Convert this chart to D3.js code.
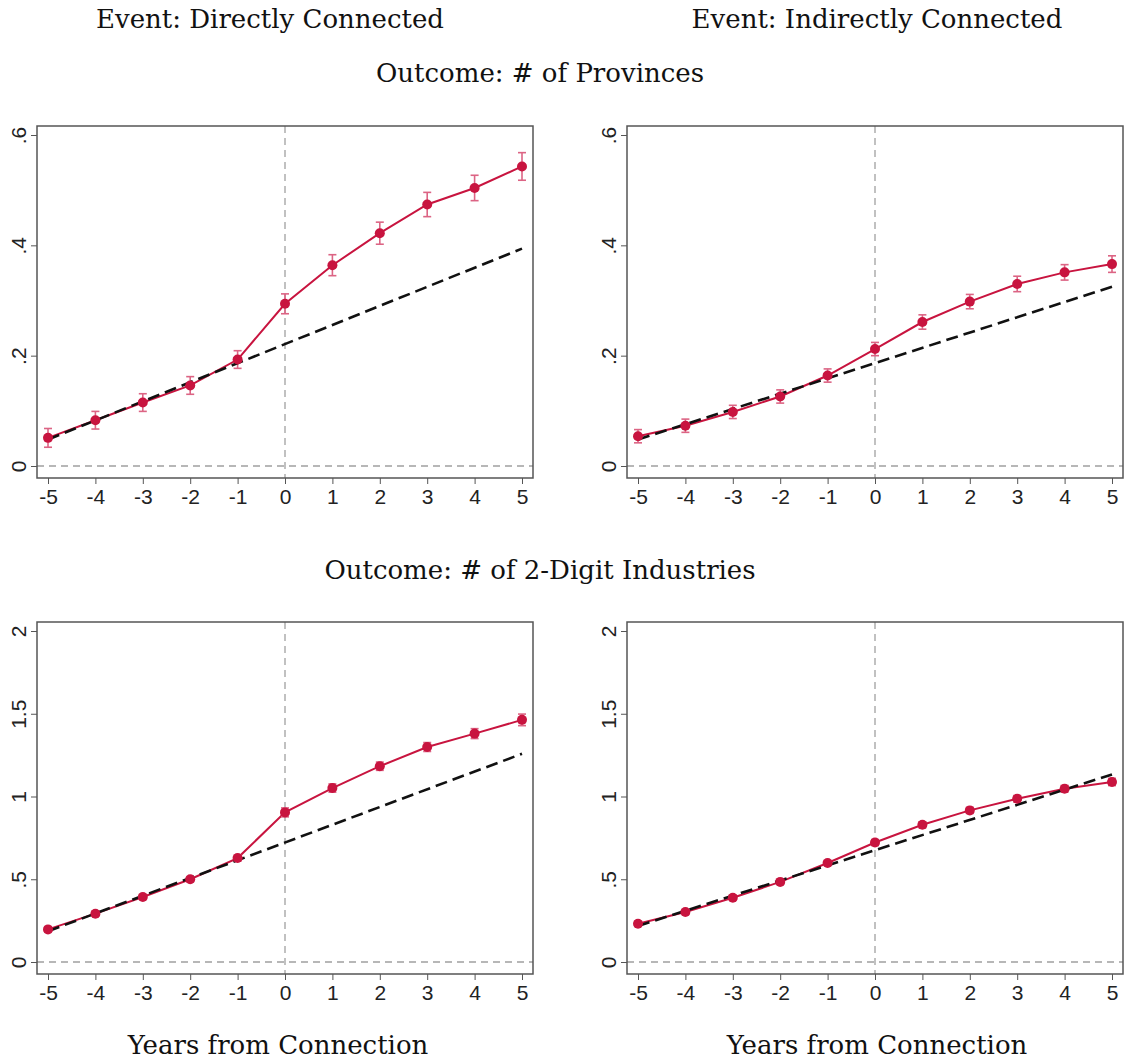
<!DOCTYPE html>
<html>
<head>
<meta charset="utf-8">
<script src="https://cdn.jsdelivr.net/npm/d3@7"></script>
<style>
  body { margin: 0; background: #fff; }
  svg { display: block; }
  .title { font-family: "DejaVu Serif", serif; font-size: 26px; fill: #111; }
  .tick text { font-family: "Liberation Sans", Arimo, Arial, sans-serif; font-size: 21px; fill: #222; }
</style>
</head>
<body>
<div id="chart"></div>
<script>
// years relative to connection
var years = [-5, -4, -3, -2, -1, 0, 1, 2, 3, 4, 5];

// outcome: # of provinces
var provDirect = [0.051, 0.083, 0.115, 0.146, 0.193, 0.294, 0.364, 0.422, 0.474, 0.504, 0.543];
var provDirectCI = [0.017, 0.016, 0.016, 0.016, 0.016, 0.018, 0.019, 0.020, 0.022, 0.023, 0.025];
var provIndirect = [0.054, 0.073, 0.098, 0.126, 0.164, 0.212, 0.261, 0.298, 0.330, 0.351, 0.366];
var provIndirectCI = [0.012, 0.012, 0.012, 0.012, 0.012, 0.012, 0.013, 0.013, 0.014, 0.014, 0.015];

// outcome: # of 2-digit industries
var indDirect = [0.197, 0.292, 0.393, 0.500, 0.628, 0.904, 1.051, 1.183, 1.299, 1.380, 1.463];
var indDirectCI = [0.015, 0.015, 0.015, 0.015, 0.018, 0.027, 0.025, 0.025, 0.027, 0.030, 0.035];
var indIndirect = [0.231, 0.302, 0.388, 0.484, 0.598, 0.722, 0.829, 0.916, 0.986, 1.047, 1.088];
var indIndirectCI = [0.015, 0.015, 0.015, 0.015, 0.015, 0.018, 0.018, 0.018, 0.020, 0.020, 0.022];

// pre-trend extrapolation (value at year -5 and year 5)
var trendProvDirect = [0.048, 0.394];
var trendProvIndirect = [0.048, 0.325];
var trendIndDirect = [0.186, 1.258];
var trendIndIndirect = [0.218, 1.133];

var provTicks = [0, 0.2, 0.4, 0.6];
var indTicks = [0, 0.5, 1, 1.5, 2];
var eventTitles = ["Event: Directly Connected", "Event: Indirectly Connected"];
var outcomeTitles = ["Outcome: # of Provinces", "Outcome: # of 2-Digit Industries"];
var xTitle = "Years from Connection";

var width = 1125, height = 1061;
var svg = d3.select("#chart").append("svg")
  .attr("width", width)
  .attr("height", height);

var red = "#c8143f", pink = "#dc6484";
var frameW = 496, frameH = 352;

var panels = [
  {left: 37, top: 126, y: provDirect, ci: provDirectCI, trend: trendProvDirect, ticks: provTicks, max: 0.6},
  {left: 627, top: 126, y: provIndirect, ci: provIndirectCI, trend: trendProvIndirect, ticks: provTicks, max: 0.6},
  {left: 37, top: 622, y: indDirect, ci: indDirectCI, trend: trendIndDirect, ticks: indTicks, max: 2},
  {left: 627, top: 622, y: indIndirect, ci: indIndirectCI, trend: trendIndIndirect, ticks: indTicks, max: 2}
];

// stata style: "-5" with a hyphen, ".5" without a leading zero
function fmt(d) {
  if (d === 0) return "0";
  return String(d).replace(/^0\./, ".");
}

panels.forEach(function(p) {
  var g = svg.append("g").attr("transform", "translate(" + p.left + "," + p.top + ")");

  var x = d3.scaleLinear().domain([-5, 5]).range([11, frameW - 11]);
  var y = d3.scaleLinear().domain([0, p.max]).range([frameH - 12, 9]);

  // reference lines
  g.append("line")
    .attr("x1", 0).attr("x2", frameW)
    .attr("y1", y(0)).attr("y2", y(0))
    .attr("stroke", "#a0a0a0").attr("stroke-width", 1.3)
    .attr("stroke-dasharray", "7,5");
  g.append("line")
    .attr("x1", x(0)).attr("x2", x(0))
    .attr("y1", 0).attr("y2", frameH)
    .attr("stroke", "#a0a0a0").attr("stroke-width", 1.3)
    .attr("stroke-dasharray", "7,5");

  var pts = years.map(function(t, i) { return {t: t, v: p.y[i], ci: p.ci[i]}; });

  // estimates
  g.append("path")
    .datum(pts)
    .attr("fill", "none")
    .attr("stroke", red)
    .attr("stroke-width", 2)
    .attr("d", d3.line().x(function(d) { return x(d.t); }).y(function(d) { return y(d.v); }));

  // error bars
  var eb = g.selectAll(".eb").data(pts).enter().append("g")
    .attr("stroke", pink).attr("stroke-width", 1.6);
  eb.append("line")
    .attr("x1", function(d) { return x(d.t); }).attr("x2", function(d) { return x(d.t); })
    .attr("y1", function(d) { return y(d.v - d.ci); }).attr("y2", function(d) { return y(d.v + d.ci); });
  eb.append("line")
    .attr("x1", function(d) { return x(d.t) - 4; }).attr("x2", function(d) { return x(d.t) + 4; })
    .attr("y1", function(d) { return y(d.v - d.ci); }).attr("y2", function(d) { return y(d.v - d.ci); });
  eb.append("line")
    .attr("x1", function(d) { return x(d.t) - 4; }).attr("x2", function(d) { return x(d.t) + 4; })
    .attr("y1", function(d) { return y(d.v + d.ci); }).attr("y2", function(d) { return y(d.v + d.ci); });

  // trend
  g.append("line")
    .attr("x1", x(years[0])).attr("x2", x(years[years.length - 1]))
    .attr("y1", y(p.trend[0])).attr("y2", y(p.trend[1]))
    .attr("stroke", "#111").attr("stroke-width", 2.6)
    .attr("stroke-dasharray", "12,6");

  g.selectAll(".dot").data(pts).enter().append("circle")
    .attr("cx", function(d) { return x(d.t); })
    .attr("cy", function(d) { return y(d.v); })
    .attr("r", 5)
    .attr("fill", red);

  // frame
  g.append("rect")
    .attr("width", frameW).attr("height", frameH)
    .attr("fill", "none").attr("stroke", "#555").attr("stroke-width", 1.5);

  // axes
  var xAxis = g.append("g").attr("transform", "translate(0," + frameH + ")")
    .call(d3.axisBottom(x).tickValues(years).tickSize(6).tickPadding(5).tickFormat(fmt));
  xAxis.select(".domain").remove();
  xAxis.selectAll(".tick line").attr("stroke", "#555");

  var yAxis = g.append("g")
    .call(d3.axisLeft(y).tickValues(p.ticks).tickSize(6).tickFormat(fmt));
  yAxis.select(".domain").remove();
  yAxis.selectAll(".tick line").attr("stroke", "#555");
  yAxis.selectAll(".tick text")
    .attr("x", 0).attr("dy", "0.36em")
    .attr("transform", "translate(-19,0) rotate(-90)")
    .attr("text-anchor", "middle");
});

// titles
svg.selectAll(".event").data(eventTitles).enter().append("text")
  .attr("class", "title")
  .attr("x", function(d, i) { return i === 0 ? 270 : 877; })
  .attr("y", 28)
  .attr("text-anchor", "middle")
  .text(function(d) { return d; });

svg.selectAll(".outcome").data(outcomeTitles).enter().append("text")
  .attr("class", "title")
  .attr("x", 540)
  .attr("y", function(d, i) { return i === 0 ? 82 : 579; })
  .attr("text-anchor", "middle")
  .text(function(d) { return d; });

svg.selectAll(".xtitle").data([278, 877]).enter().append("text")
  .attr("class", "title")
  .attr("x", function(d) { return d; })
  .attr("y", 1054)
  .attr("text-anchor", "middle")
  .text(xTitle);
</script>
</body>
</html>
